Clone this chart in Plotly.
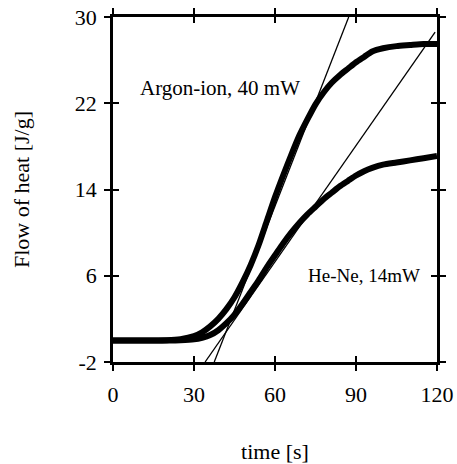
import plotly.graph_objects as go

# ---- data ----
time_s = [0, 5, 10, 15, 20, 25, 30, 33, 36, 39, 42, 45, 48, 51, 54, 57, 60, 63, 66,
          69, 72, 75, 78, 81, 84, 87, 90, 93, 96, 100, 105, 110, 115, 120]
argon_heat = [0, 0, 0, 0, 0.02, 0.12, 0.4, 0.75, 1.3, 2.0, 2.9, 4.0, 5.4, 7.0, 8.9,
              11.1, 13.3, 15.3, 17.2, 19.0, 20.5, 21.9, 23.0, 23.9, 24.6, 25.2, 25.8,
              26.3, 26.8, 27.1, 27.3, 27.4, 27.5, 27.5]
hene_heat = [0, 0, 0, 0, 0, 0.02, 0.1, 0.25, 0.5, 0.95, 1.6, 2.4, 3.4, 4.5, 5.6, 6.8,
             7.9, 9.0, 10.0, 10.9, 11.7, 12.4, 13.1, 13.7, 14.3, 14.8, 15.3, 15.7, 16.0,
             16.3, 16.5, 16.7, 16.9, 17.1]

argon_tangent_x = [37.5, 87.3]
argon_tangent_y = [-2, 30]
hene_tangent_x = [34.1, 119.3]
hene_tangent_y = [-2, 28.6]

x_ticks = [0, 30, 60, 90, 120]
x_tick_text = ["0", "30", "60", "90", "120"]
y_ticks = [-2, 6, 14, 22, 30]
y_tick_text = ["-2", "6", "14", "22", "30"]

FONT = "Liberation Serif"

fig = go.Figure()
for ys in (argon_heat, hene_heat):
    fig.add_trace(go.Scatter(x=time_s, y=ys, mode="lines",
                             line=dict(color="black", width=6, shape="spline", smoothing=0.6),
                             showlegend=False, hoverinfo="skip"))
fig.add_trace(go.Scatter(x=argon_tangent_x, y=argon_tangent_y, mode="lines",
                         line=dict(color="black", width=1.3), showlegend=False))
fig.add_trace(go.Scatter(x=hene_tangent_x, y=hene_tangent_y, mode="lines",
                         line=dict(color="black", width=1.3), showlegend=False))
fig.add_trace(go.Scatter(x=[0], y=[0], xaxis="x2", yaxis="y2", mode="markers",
                         marker=dict(opacity=0), showlegend=False, hoverinfo="skip"))

fig.add_annotation(x=39.6, y=23.4, text="Argon-ion, 40 mW", showarrow=False,
                   font=dict(family=FONT, size=21, color="black"))
fig.add_annotation(x=93.0, y=6.0, text="He-Ne, 14mW", showarrow=False,
                   font=dict(family=FONT, size=19, color="black"))

axis_common = dict(showgrid=False, zeroline=False, linecolor="black", linewidth=2.5,
                   tickcolor="black", tickwidth=1.5, ticklen=6, automargin=False)

fig.update_layout(
    width=457, height=464,
    margin=dict(l=113, r=20, t=17, b=102),
    paper_bgcolor="white", plot_bgcolor="white",
    font=dict(family=FONT, size=22, color="black"),
    xaxis=dict(range=[0, 120], tickvals=x_ticks, ticktext=x_tick_text,
               ticks="outside", mirror="ticks", showline=True, ticklabelstandoff=5,
               title=dict(text="time [s]", standoff=49, font=dict(size=22)),
               **axis_common),
    yaxis=dict(range=[-2, 30], tickvals=y_ticks, ticktext=y_tick_text,
               ticks="outside", mirror="ticks", showline=True, ticklabelstandoff=3,
               title=dict(text="Flow of heat [J/g]", standoff=40, font=dict(size=22)),
               **axis_common),
    xaxis2=dict(range=[0, 120], tickvals=x_ticks, ticks="inside", mirror="ticks",
                overlaying="x", showticklabels=False, showline=False, showgrid=False,
                zeroline=False, tickcolor="black", tickwidth=1.5, ticklen=6),
    yaxis2=dict(range=[-2, 30], tickvals=y_ticks, ticks="inside", mirror="ticks",
                overlaying="y", showticklabels=False, showline=False, showgrid=False,
                zeroline=False, tickcolor="black", tickwidth=1.5, ticklen=6),
)

fig.write_html("out.html", config={"displayModeBar": False},
               post_script="document.body.style.margin='0';document.body.style.overflow='hidden';")
